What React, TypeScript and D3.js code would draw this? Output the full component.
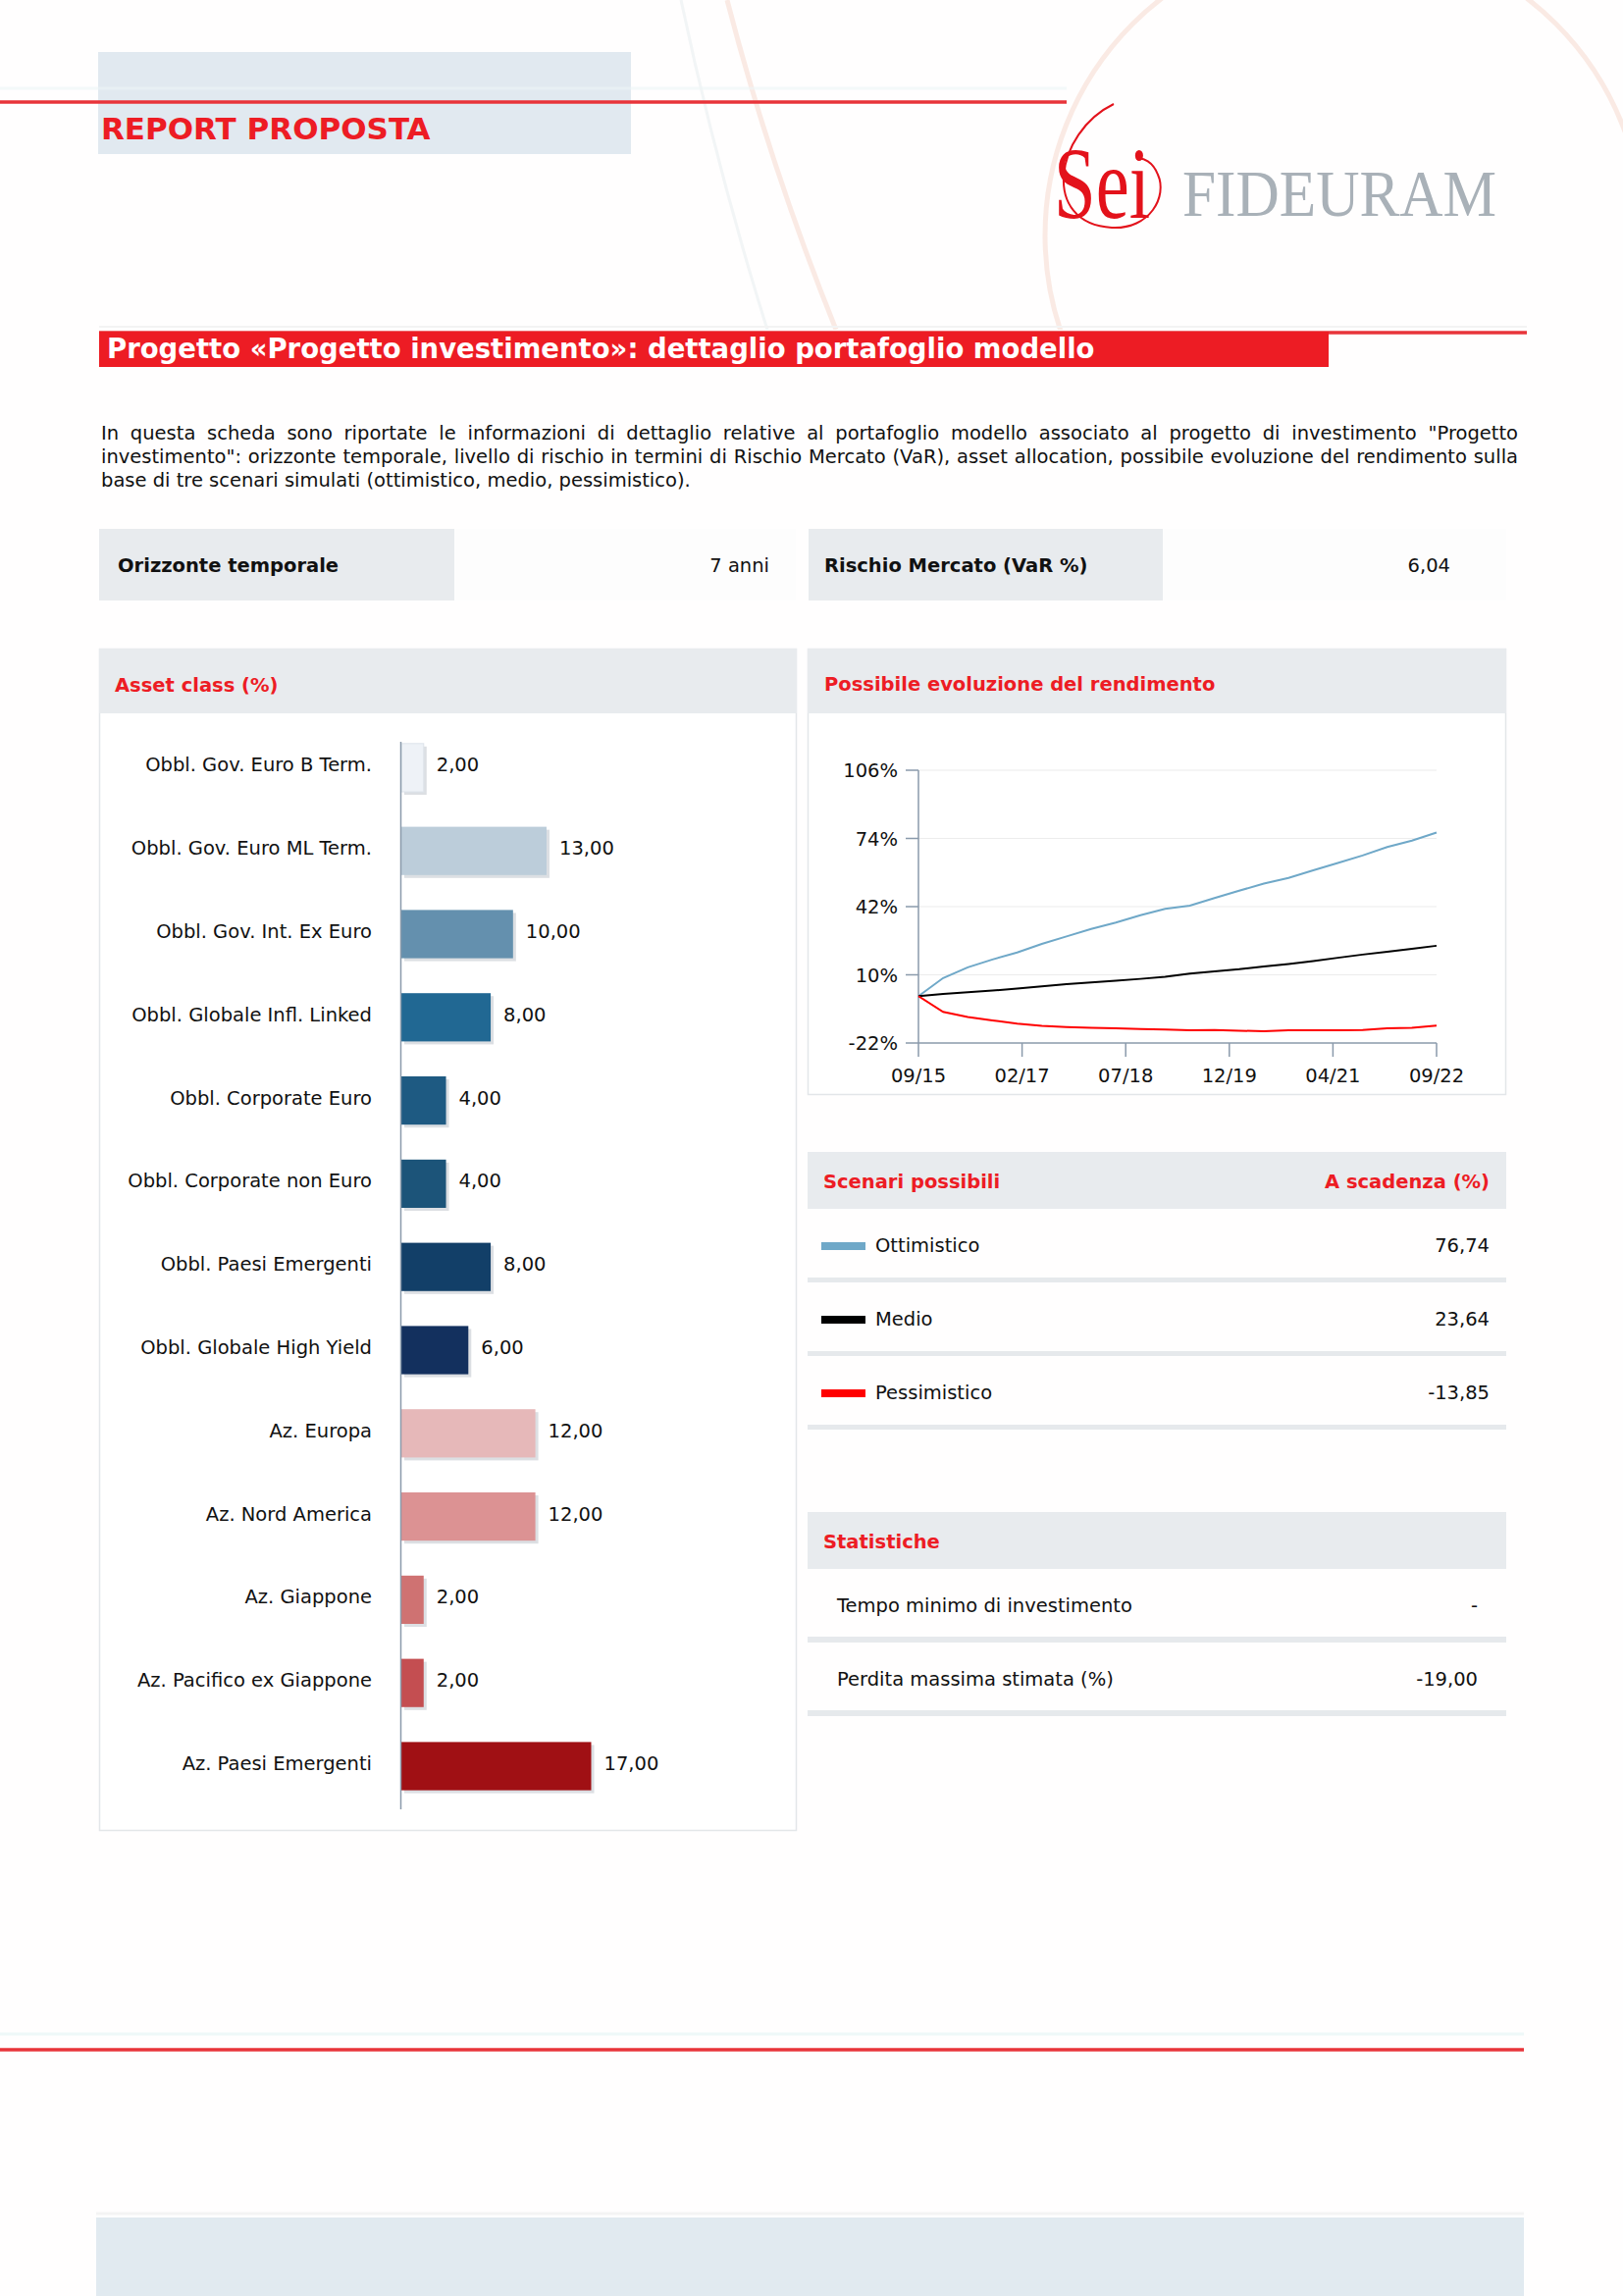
import React, { useMemo } from 'react';
import * as d3 from 'd3';

// ---------- DATA ----------
const assetClasses = [
  'Obbl. Gov. Euro B Term.',
  'Obbl. Gov. Euro ML Term.',
  'Obbl. Gov. Int. Ex Euro',
  'Obbl. Globale Infl. Linked',
  'Obbl. Corporate Euro',
  'Obbl. Corporate non Euro',
  'Obbl. Paesi Emergenti',
  'Obbl. Globale High Yield',
  'Az. Europa',
  'Az. Nord America',
  'Az. Giappone',
  'Az. Pacifico ex Giappone',
  'Az. Paesi Emergenti',
];
const assetWeights = [2, 13, 10, 8, 4, 4, 8, 6, 12, 12, 2, 2, 17];
const assetColors = [
  '#eef2f7', '#bccdda', '#6490ae', '#216893', '#1e5a82', '#1c5479', '#123f68',
  '#13305e', '#e6b8b9', '#dc9293', '#cf7272', '#c44e51', '#a01014',
];

const months = [0, 4, 8, 12, 16, 20, 24, 28, 32, 36, 40, 44, 48, 52, 56, 60, 64, 68, 72, 76, 80, 84];
const ottimistico = [0, 8.5, 13.5, 17.2, 20.5, 24.5, 28, 31.5, 34.5, 38, 41, 42.5, 46, 49.5, 52.8, 55.5, 59, 62.5, 66, 70, 73, 76.74];
const medio = [0, 1.0, 1.8, 2.6, 3.6, 4.6, 5.6, 6.4, 7.2, 8.1, 9.1, 10.6, 11.6, 12.6, 13.9, 15.1, 16.5, 18.0, 19.5, 20.8, 22.2, 23.64];
const pessimistico = [0, -7.4, -9.8, -11.4, -12.9, -13.9, -14.5, -14.9, -15.1, -15.4, -15.7, -16.0, -15.9, -16.2, -16.5, -16.0, -16.0, -16.0, -15.9, -15.1, -14.9, -13.85];

const yTickValues = [-22, 10, 42, 74, 106];
const xTickMonths = [0, 16.8, 33.6, 50.4, 67.2, 84];
const xTickLabels = ['09/15', '02/17', '07/18', '12/19', '04/21', '09/22'];

const scenarioNames = ['Ottimistico', 'Medio', 'Pessimistico'];
const scenarioColors = ['#6fa8c8', '#000000', '#ff0000'];
const scenarioFinal = [76.74, 23.64, -13.85];

const statLabels = ['Tempo minimo di investimento', 'Perdita massima stimata (%)'];
const statValues = ['-', '-19,00'];

const paragraphLines = [
  'In questa scheda sono riportate le informazioni di dettaglio relative al portafoglio modello associato al progetto di investimento "Progetto',
  'investimento": orizzonte temporale, livello di rischio in termini di Rischio Mercato (VaR), asset allocation, possibile evoluzione del rendimento sulla',
  'base di tre scenari simulati (ottimistico, medio, pessimistico).',
];

// ---------- STYLE ----------
const FONT = "'DejaVu Sans', Verdana, sans-serif";
const FS = 19.5;
const RED = '#ed1c24';
const HEAD_GRAY = '#e8ebee';
const SEP_GRAY = '#e6e9ec';

const locale = d3.formatLocale({ decimal: ',', thousands: '.', grouping: [3], currency: ['€', ''], minus: '-' });
const fmt2 = locale.format('.2f');

function useJustify(lines: string[], width: number) {
  return useMemo(() => {
    const c = document.createElement('canvas');
    const ctx = c.getContext('2d');
    return lines.map((line, i) => {
      if (i === lines.length - 1 || !ctx) return 0;
      ctx.font = `${FS}px 'DejaVu Sans'`;
      const w = ctx.measureText(line).width;
      const spaces = (line.match(/ /g) || []).length;
      return spaces ? (width - w) / spaces : 0;
    });
  }, [lines, width]);
}

export default function App() {
  const W = 1654;
  const H = 2340;

  // bar chart scales
  const yBand = d3.scaleBand<string>().domain(assetClasses).range([740, 740 + 13 * 84.8]).paddingInner(0.42).paddingOuter(0.21);
  const xBar = d3.scaleLinear().domain([0, 17]).range([409, 602.5]);

  // line chart scales
  const xL = d3.scaleLinear().domain([0, 84]).range([936, 1464]);
  const yL = d3.scaleLinear().domain([-22, 106]).range([1063, 785]);
  const lineGen = d3.line<[number, number]>().x((d) => xL(d[0])).y((d) => yL(d[1]));
  const series = [ottimistico, medio, pessimistico];

  const wordSpacing = useJustify(paragraphLines, 1444);

  return (
    <svg width={W} height={H} style={{ position: 'absolute', left: 0, top: 0, background: '#fff' }} fontFamily={FONT}>
      <defs>
        <clipPath id="topclip">
          <rect x={0} y={0} width={W} height={336} />
        </clipPath>
      </defs>
      <rect x={0} y={0} width={W} height={H} fill="#fffefe" />
      {/* decorative arcs */}
      <g fill="none" stroke="#f2cdbd" strokeWidth={5} opacity={0.4} clipPath="url(#topclip)">
        <path d="M 741 0 Q 785 170 852 336" />
        <circle cx={1370} cy={240} r={305} />
      </g>
      <g fill="none" stroke="#e9eef0" strokeWidth={3} opacity={0.6} clipPath="url(#topclip)">
        <path d="M 694 0 Q 730 170 782 336" />
      </g>
      {/* header */}
      <rect x={100} y={53} width={543} height={104} fill="#e1e9f0" />
      <line x1={0} x2={1087} y1={90} y2={90} stroke="#eef6f7" strokeWidth={3} opacity={0.6} />
      <line x1={0} x2={1087} y1={104} y2={104} stroke="#e8343a" strokeWidth={3.5} />
      <text x={103} y={142} fill={RED} fontWeight="bold" fontSize={31}>REPORT PROPOSTA</text>

      {/* logo */}
      <path d="M 1135 106 C 1075 135, 1060 228, 1133 232 C 1172 234, 1190 200, 1180 178 C 1175 165, 1165 160, 1158 162" fill="none" stroke="#e3121b" strokeWidth={2} />
      <text x={1074} y={222} fill="#e3121b" fontFamily="'Liberation Serif', 'DejaVu Serif', serif" fontSize={104} textLength={98} lengthAdjust="spacingAndGlyphs">Sei</text>
      <text x={1205} y={220} fill="#a9b1b8" fontFamily="'Liberation Serif', 'DejaVu Serif', serif" fontSize={68} textLength={320} lengthAdjust="spacingAndGlyphs">FIDEURAM</text>

      {/* title bar */}
      <line x1={101} x2={1556} y1={333} y2={333} stroke="#f3f3f3" strokeWidth={2} />
      <line x1={101} x2={1556} y1={339} y2={339} stroke="#e8343a" strokeWidth={3.5} />
      <rect x={101} y={338} width={1253} height={36} fill={RED} />
      <text x={109} y={365} fill="#fff" fontWeight="bold" fontSize={27.5}>Progetto «Progetto investimento»: dettaglio portafoglio modello</text>

      {/* paragraph */}
      {paragraphLines.map((l, i) => (
        <text key={i} x={103} y={448 + i * 24} fontSize={FS} fill="#111" wordSpacing={wordSpacing[i]} style={{ whiteSpace: 'pre' }}>{l}</text>
      ))}

      {/* info row */}
      <rect x={101} y={539} width={362} height={73} fill={HEAD_GRAY} />
      <rect x={463} y={539} width={348} height={73} fill="#fdfdfd" />
      <rect x={824} y={539} width={361} height={73} fill={HEAD_GRAY} />
      <rect x={1185} y={539} width={350} height={73} fill="#fdfdfd" />
      <text x={120} y={583} fontSize={FS} fontWeight="bold" fill="#111">Orizzonte temporale</text>
      <text x={784} y={583} fontSize={FS} textAnchor="end" fill="#111">7 anni</text>
      <text x={840} y={583} fontSize={FS} fontWeight="bold" fill="#111">Rischio Mercato (VaR %)</text>
      <text x={1478} y={583} fontSize={FS} textAnchor="end" fill="#111">6,04</text>

      {/* Asset class panel */}
      <rect x={101.5} y={661.5} width={710} height={1204} fill="#fff" stroke="#e3e6e9" strokeWidth={1.5} />
      <rect x={101} y={661} width={711} height={66} fill={HEAD_GRAY} />
      <text x={117} y={705} fontSize={FS} fontWeight="bold" fill={RED}>Asset class (%)</text>
      {assetClasses.map((c, i) => {
        const y0 = yBand(c) as number;
        const bw = yBand.bandwidth();
        const x1 = xBar(assetWeights[i]);
        const cy = y0 + bw / 2;
        return (
          <g key={c}>
            <rect x={xBar(0) + 3} y={y0 + 3} width={x1 - xBar(0)} height={bw} fill="#dcdfe3" />
            <rect x={xBar(0)} y={y0} width={x1 - xBar(0)} height={bw} fill={assetColors[i]} stroke={i === 0 ? '#dde3ea' : 'none'} />
            <text x={379} y={cy + 4} fontSize={FS} textAnchor="end" fill="#111">{c}</text>
            <text x={x1 + 13} y={cy + 4} fontSize={FS} fill="#111">{fmt2(assetWeights[i])}</text>
          </g>
        );
      })}
      <line x1={408.5} x2={408.5} y1={756} y2={1844} stroke="#8a9aab" strokeWidth={1.5} />

      {/* Line chart panel */}
      <rect x={823.5} y={661.5} width={711} height={454} fill="#fff" stroke="#e3e6e9" strokeWidth={1.5} />
      <rect x={823} y={661} width={712} height={66} fill={HEAD_GRAY} />
      <text x={840} y={704} fontSize={FS} fontWeight="bold" fill={RED}>Possibile evoluzione del rendimento</text>
      {yTickValues.map((v) => (
        <g key={v}>
          {v !== -22 && <line x1={xL(0)} x2={xL(84)} y1={yL(v)} y2={yL(v)} stroke="#ececec" strokeWidth={1.2} />}
          <line x1={xL(0) - 13} x2={xL(0)} y1={yL(v)} y2={yL(v)} stroke="#8a9aab" strokeWidth={1.5} />
          <text x={915} y={yL(v) + 7} fontSize={FS} textAnchor="end" fill="#111">{`${v}%`}</text>
        </g>
      ))}
      {xTickMonths.map((m, i) => (
        <g key={m}>
          <line x1={xL(m)} x2={xL(m)} y1={yL(-22)} y2={yL(-22) + 14} stroke="#8a9aab" strokeWidth={1.5} />
          <text x={xL(m)} y={1103} fontSize={FS} textAnchor="middle" fill="#111">{xTickLabels[i]}</text>
        </g>
      ))}
      <line x1={xL(0)} x2={xL(84)} y1={yL(-22)} y2={yL(-22)} stroke="#8a9aab" strokeWidth={1.5} />
      <line x1={xL(0)} x2={xL(0)} y1={yL(106)} y2={yL(-22)} stroke="#8a9aab" strokeWidth={1.5} />
      {series.map((s, k) => (
        <path key={k} d={lineGen(months.map((m, i) => [m, s[i]] as [number, number])) || ''} fill="none" stroke={scenarioColors[k]} strokeWidth={2} />
      ))}

      {/* Scenari possibili */}
      <rect x={823} y={1174} width={712} height={58} fill={HEAD_GRAY} />
      <text x={839} y={1211} fontSize={FS} fontWeight="bold" fill={RED}>Scenari possibili</text>
      <text x={1518} y={1211} fontSize={FS} fontWeight="bold" fill={RED} textAnchor="end">A scadenza (%)</text>
      {scenarioNames.map((n, i) => (
        <g key={n}>
          <rect x={837} y={1266 + i * 75} width={45} height={8} fill={scenarioColors[i]} />
          <text x={892} y={1276 + i * 75} fontSize={FS} fill="#111">{n}</text>
          <text x={1518} y={1276 + i * 75} fontSize={FS} fill="#111" textAnchor="end">{fmt2(scenarioFinal[i])}</text>
          <rect x={823} y={1302 + i * 75} width={712} height={5} fill={SEP_GRAY} />
        </g>
      ))}

      {/* Statistiche */}
      <rect x={823} y={1541} width={712} height={58} fill={HEAD_GRAY} />
      <text x={839} y={1578} fontSize={FS} fontWeight="bold" fill={RED}>Statistiche</text>
      {statLabels.map((n, i) => (
        <g key={n}>
          <text x={853} y={1643 + i * 75} fontSize={FS} fill="#111">{n}</text>
          <text x={1506} y={1643 + i * 75} fontSize={FS} fill="#111" textAnchor="end">{statValues[i]}</text>
          <rect x={823} y={1668 + i * 75} width={712} height={6} fill={SEP_GRAY} />
        </g>
      ))}

      {/* footer */}
      <line x1={0} x2={1553} y1={2073} y2={2073} stroke="#eef8f8" strokeWidth={3} />
      <line x1={0} x2={1553} y1={2089} y2={2089} stroke="#e8343a" strokeWidth={3.5} />
      <line x1={98} x2={1553} y1={2256} y2={2256} stroke="#f4f4f4" strokeWidth={3} />
      <rect x={98} y={2260} width={1455} height={80} fill="#e1eaf0" />
    </svg>
  );
}
